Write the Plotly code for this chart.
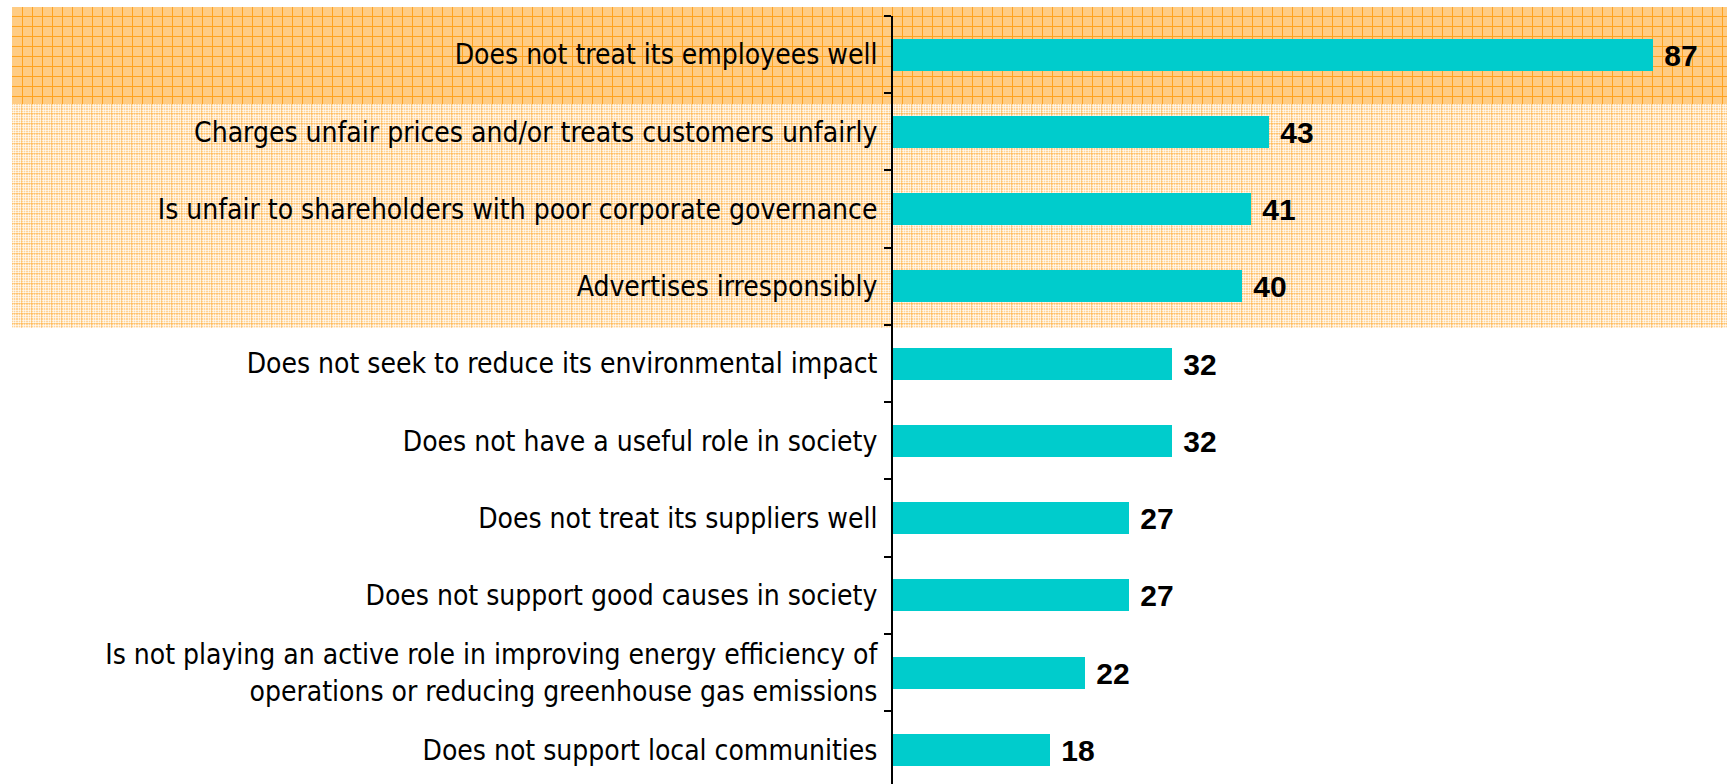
import plotly.graph_objects as go

# Survey results: share of respondents (%) citing each behaviour
categories = [
    "Does not treat its employees well",
    "Charges unfair prices and/or treats customers unfairly",
    "Is unfair to shareholders with poor corporate governance",
    "Advertises irresponsibly",
    "Does not seek to reduce its environmental impact",
    "Does not have a useful role in society",
    "Does not treat its suppliers well",
    "Does not support good causes in society",
    "Is not playing an active role in improving energy efficiency of<br>operations or reducing greenhouse gas emissions",
    "Does not support local communities",
]
values = [87, 43, 41, 40, 32, 32, 27, 27, 22, 18]

W, H = 1727, 784
ML, MT = 893, 16
PW, PH = W - ML, H - MT


def fx(px):
    return (px - ML) / PW


def fy(py):
    return (H - py) / PH


def grid_path(x0, x1, y0, y1, xs, ys):
    parts = []
    for x in xs:
        parts.append(f"M{fx(x):.5f},{fy(y0):.5f}L{fx(x):.5f},{fy(y1):.5f}")
    for y in ys:
        parts.append(f"M{fx(x0):.5f},{fy(y):.5f}L{fx(x1):.5f},{fy(y):.5f}")
    return "".join(parts)


shapes = []
# Highlight band behind the top row: orange graph-paper
bx0, bx1 = 12, W
t0, t1 = 7, 104
shapes.append(dict(type="rect", xref="paper", yref="paper", layer="below",
                   x0=fx(bx0), x1=fx(bx1), y0=fy(t1), y1=fy(t0),
                   fillcolor="#FFCC84", line=dict(width=0)))
xs = [x + 0.5 for x in range(22, bx1, 10)]
ys = [y + 0.5 for y in range(16, t1, 10)]
shapes.append(dict(type="path", xref="paper", yref="paper", layer="below",
                   path=grid_path(bx0, bx1, t0, t1, xs, ys),
                   line=dict(color="#FFA21E", width=1)))

# Lighter plaid band behind rows 2-4
p0, p1 = 104, 328
shapes.append(dict(type="rect", xref="paper", yref="paper", layer="below",
                   x0=fx(bx0), x1=fx(bx1), y0=fy(p1), y1=fy(p0),
                   fillcolor="#FFD396", line=dict(width=0)))
xs_w = [x + 0.5 for x in range(bx0, bx1) if (x - bx0) % 10 in (1, 3, 6, 8)]
ys_w = [y + 0.5 for y in range(p0, p1) if (y - p0) % 10 in (1, 3, 6, 8)]
shapes.append(dict(type="path", xref="paper", yref="paper", layer="below",
                   path=grid_path(bx0, bx1, p0, p1, xs_w, ys_w),
                   line=dict(color="rgba(255,255,255,0.6)", width=1)))
xs_o = [x + 0.5 for x in range(bx0, bx1) if (x - bx0) % 10 == 9]
ys_o = [y + 0.5 for y in range(p0, p1) if (y - p0) % 10 == 9]
shapes.append(dict(type="path", xref="paper", yref="paper", layer="below",
                   path=grid_path(bx0, bx1, p0, p1, xs_o, ys_o),
                   line=dict(color="rgba(255,175,60,0.45)", width=1)))

positions = list(range(len(categories)))

fig = go.Figure(go.Bar(
    x=values,
    y=positions,
    orientation="h",
    width=0.415,
    marker=dict(color="#00CCCC", line=dict(width=0)),
    text=values,
    texttemplate="\u00a0%{x}",
    textposition="outside",
    constraintext="none",
    cliponaxis=False,
    textfont=dict(family="Liberation Sans, Arial, sans-serif", size=30,
                  color="black", weight="bold"),
    hoverinfo="skip",
))

fig.update_layout(
    width=W, height=H,
    margin=dict(l=ML, r=0, t=MT, b=0, pad=0),
    paper_bgcolor="white",
    plot_bgcolor="rgba(0,0,0,0)",
    showlegend=False,
    shapes=shapes,
    bargap=0,
)

fig.update_xaxes(visible=False, range=[0, 95.5], fixedrange=True)
fig.update_yaxes(
    range=[9.443, -0.5],
    tickmode="array",
    tickvals=positions,
    ticktext=categories,
    ticks="",
    ticklabelstandoff=8,
    showgrid=False,
    zeroline=False,
    showline=True,
    linecolor="black",
    linewidth=2,
    tickfont=dict(family="DejaVu Sans Condensed, sans-serif",
                  size=28, color="black"),
    minor=dict(tickmode="array", tickvals=[p - 0.5 for p in positions] + [9.5],
               ticks="outside", ticklen=7, tickwidth=2, tickcolor="black",
               showgrid=False),
    fixedrange=True,
)

fig.write_html("out.html")
